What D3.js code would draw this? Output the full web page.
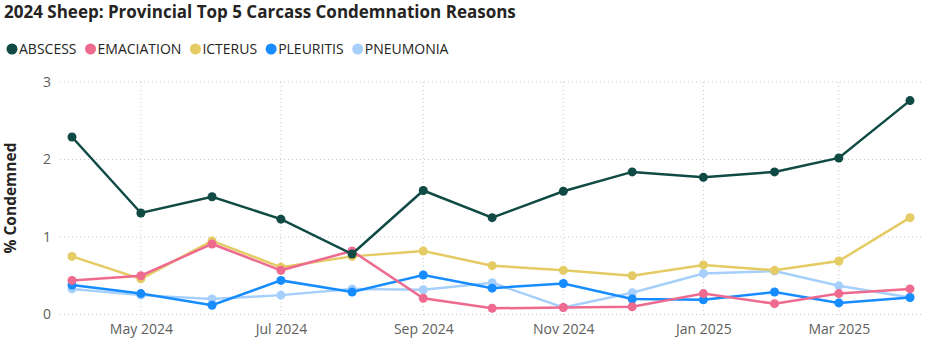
<!DOCTYPE html>
<html>
<head>
<meta charset="utf-8">
<script src="https://cdn.jsdelivr.net/npm/d3@7"></script>
<style>
body { margin: 0; background: #fff; }
text { font-family: "Segoe UI", "Open Sans", "Noto Sans", sans-serif; }
</style>
</head>
<body>
<div id="main"></div>
<script>
var months = ["2024-04", "2024-05", "2024-06", "2024-07", "2024-08", "2024-09", "2024-10",
	"2024-11", "2024-12", "2025-01", "2025-02", "2025-03", "2025-04"];

var abscess    = [2.29, 1.31, 1.52, 1.23, 0.78, 1.60, 1.25, 1.59, 1.84, 1.77, 1.84, 2.02, 2.76];
var emaciation = [0.44, 0.50, 0.91, 0.57, 0.82, 0.21, 0.08, 0.09, 0.10, 0.27, 0.14, 0.27, 0.33];
var icterus    = [0.75, 0.46, 0.95, 0.61, 0.75, 0.82, 0.63, 0.57, 0.50, 0.64, 0.57, 0.69, 1.25];
var pleuritis  = [0.38, 0.27, 0.12, 0.44, 0.29, 0.51, 0.34, 0.40, 0.20, 0.19, 0.29, 0.15, 0.22];
var pneumonia  = [0.33, 0.25, 0.20, 0.25, 0.33, 0.32, 0.41, 0.09, 0.28, 0.53, 0.56, 0.37, 0.22];

var seriesNames = ["ABSCESS", "EMACIATION", "ICTERUS", "PLEURITIS", "PNEUMONIA"];
var seriesColors = ["#0f4a45", "#ee6b8f", "#e5cb63", "#168cff", "#a6d0fb"];
var yTicks = [0, 1, 2, 3];

var parse = d3.timeParse("%Y-%m");
var dates = months.map(parse);
var allSeries = [abscess, emaciation, icterus, pleuritis, pneumonia];

var width = 936, height = 348;
var svg = d3.select("#main").append("svg")
	.attr("width", width)
	.attr("height", height);

// title
svg.append("text")
	.attr("x", 4)
	.attr("y", 18)
	.attr("font-size", 17)
	.attr("font-weight", "bold")
	.attr("fill", "#252423")
	.text("2024 Sheep: Provincial Top 5 Carcass Condemnation Reasons");

// legend
var lx = 12;
seriesNames.forEach(function(name, i) {
	svg.append("circle")
		.attr("cx", lx)
		.attr("cy", 49)
		.attr("r", 5.5)
		.attr("fill", seriesColors[i]);
	var t = svg.append("text")
		.attr("x", lx + 7)
		.attr("y", 54)
		.attr("font-size", 14)
		.attr("fill", "#252423")
		.text(name);
	lx += t.node().getComputedTextLength() + 21;
});

var x = d3.scaleTime()
	.domain([dates[0], dates[dates.length - 1]])
	.range([72, 910]);

var y = d3.scaleLinear()
	.domain([0, 3])
	.range([314.5, 82]);

// horizontal gridlines
svg.append("g")
	.selectAll("line")
	.data(yTicks)
	.enter().append("line")
	.attr("x1", 60)
	.attr("x2", 922)
	.attr("y1", function(d) { return y(d); })
	.attr("y2", function(d) { return y(d); })
	.attr("stroke", "#c8c8c8")
	.attr("stroke-width", 1)
	.attr("stroke-dasharray", "1,3");

// vertical gridlines on tick months
var xTickDates = dates.filter(function(d, i) { return i % 2 == 1; });
svg.append("g")
	.selectAll("line")
	.data(xTickDates)
	.enter().append("line")
	.attr("x1", function(d) { return x(d); })
	.attr("x2", function(d) { return x(d); })
	.attr("y1", 82)
	.attr("y2", 316)
	.attr("stroke", "#c8c8c8")
	.attr("stroke-width", 1)
	.attr("stroke-dasharray", "1,3");

// y axis
var yAxis = svg.append("g")
	.attr("transform", "translate(51,0)")
	.call(d3.axisLeft(y).tickValues(yTicks).tickSize(0).tickPadding(0).tickFormat(d3.format("d")));
yAxis.select(".domain").remove();
yAxis.selectAll("text")
	.attr("font-size", 14)
	.attr("fill", "#605e5c")
	.style("font-family", "\"Segoe UI\", \"Open Sans\", sans-serif");

// x axis
var xAxis = svg.append("g")
	.attr("transform", "translate(0,320)")
	.call(d3.axisBottom(x).tickValues(xTickDates).tickSize(0).tickPadding(4)
		.tickFormat(d3.timeFormat("%b %Y")));
xAxis.select(".domain").remove();
xAxis.selectAll("text")
	.attr("font-size", 14)
	.attr("fill", "#605e5c")
	.style("font-family", "\"Segoe UI\", \"Open Sans\", sans-serif");

// y axis title
svg.append("text")
	.attr("transform", "translate(16,198) rotate(-90)")
	.attr("text-anchor", "middle")
	.attr("font-size", 15.5)
	.attr("font-weight", "bold")
	.attr("fill", "#252423")
	.text("% Condemned");

// lines, drawn bottom series first
var line = d3.line()
	.x(function(d, i) { return x(dates[i]); })
	.y(function(d) { return y(d); });

for (var s = allSeries.length - 1; s >= 0; s--) {
	svg.append("path")
		.datum(allSeries[s])
		.attr("d", line)
		.attr("fill", "none")
		.attr("stroke", seriesColors[s])
		.attr("stroke-width", 2.5);
	svg.append("g")
		.selectAll("circle")
		.data(allSeries[s])
		.enter().append("circle")
		.attr("cx", function(d, i) { return x(dates[i]); })
		.attr("cy", function(d) { return y(d); })
		.attr("r", 4.5)
		.attr("fill", seriesColors[s]);
}
</script>
</body>
</html>
